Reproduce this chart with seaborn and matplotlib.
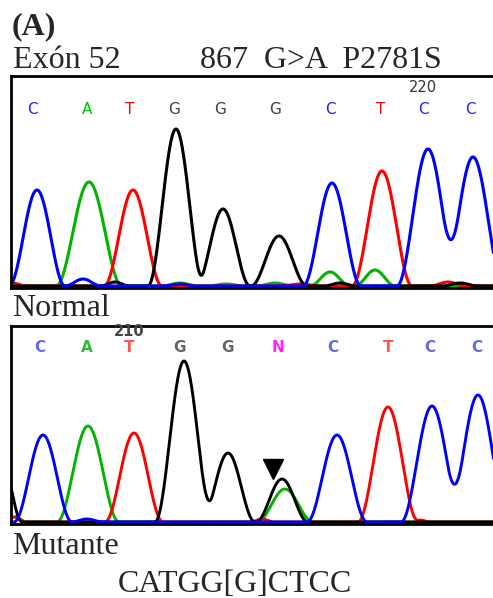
import numpy as np
import pandas as pd
import seaborn as sns
import matplotlib
matplotlib.use("Agg")
import matplotlib.pyplot as plt

sns.set_style("white")
plt.rcParams['font.family'] = ['DejaVu Sans']

# base calls (scan position, letter)
normal_pos = [32, 87, 130, 174, 220, 275, 330, 381, 423, 470]
normal_bases = ['C', 'A', 'T', 'G', 'G', 'G', 'C', 'T', 'C', 'C']
mutant_pos = [40, 87, 129, 180, 228, 278, 333, 388, 430, 477]
mutant_bases = ['C', 'A', 'T', 'G', 'G', 'N', 'C', 'T', 'C', 'C']

# peaks: (centre, height, half width)
normal_peaks = {
    'A': [(89, 104, 33), (180, 3, 18), (226, 2, 18), (275, 3, 18), (330, 14, 20), (375, 16, 20)],
    'T': [(12, 3, 14), (133, 96, 29), (300, 2, 20), (382, 115, 30), (448, 4, 18)],
    'G': [(115, 4, 14), (176, 157, 28), (223, 77, 27), (279, 50, 28), (340, 3, 16), (460, 3, 18)],
    'C': [(37, 96, 28), (83, 7, 18), (180, 2, 16), (332, 103, 29), (428, 137, 31), (473, 129, 31)],
}
mutant_peaks = {
    'A': [(15, 5, 12), (88, 96, 31), (285, 33, 28)],
    'T': [(15, 5, 10), (134, 89, 29), (262, 3, 12), (388, 115, 30), (420, 2, 10)],
    'G': [(2, 60, 20), (184, 161, 29), (228, 69, 27), (282, 43, 26)],
    'C': [(43, 87, 29), (87, 3, 16), (337, 87, 30), (432, 116, 31), (478, 127, 31)],
}
trace_colors = {'A': '#00b400', 'T': '#ff0000', 'G': '#000000', 'C': '#0000ff'}
normal_label_colors = {'A': '#00c000', 'T': '#ff0000', 'G': '#404040', 'C': '#2020ff'}
mutant_label_colors = {'A': '#33bb33', 'T': '#ff5555', 'G': '#666666', 'C': '#6666ee', 'N': '#ff22ff'}

W, H = 493, 598
scan = np.linspace(-20, 520, 1081)


def trace(peaks):
    y = np.zeros_like(scan)
    for c, h, w in peaks:
        d = np.abs(scan - c)
        y += np.where(d < w, h * np.cos(np.pi * d / (2 * w)) ** 2, 0)
    return y


def panel(ax, peaks, pos, bases, lcolors, ymax, label_y, lw, bold):
    for base in ['A', 'T', 'G', 'C']:
        df = pd.DataFrame({'scan': scan, 'signal': trace(peaks[base])})
        sns.lineplot(data=df, x='scan', y='signal', color=trace_colors[base],
                     lw=lw, estimator=None, ax=ax)
    for x, b in zip(pos, bases):
        ax.text(x, label_y, b, color=lcolors[b], ha='center', va='center',
                fontsize=11, fontweight='bold' if bold else 'normal')
    ax.set_xlim(11, 493)
    ax.set_ylim(-2, ymax)
    ax.set_xticks([])
    ax.set_yticks([])
    ax.set_xlabel('')
    ax.set_ylabel('')
    for s in ['top', 'bottom', 'left']:
        ax.spines[s].set_linewidth(2)
        ax.spines[s].set_color('black')
    ax.spines['right'].set_visible(False)


fig = plt.figure(figsize=(W / 100, H / 100), dpi=100)
ax1 = fig.add_axes([11 / W, 1 - 288 / H, 1 - 11 / W, 212 / H])
ax2 = fig.add_axes([11 / W, 1 - 524 / H, 1 - 11 / W, 198 / H])

panel(ax1, normal_peaks, normal_pos, normal_bases, normal_label_colors, 210, 176, 2.2, False)
ax1.text(423, 198, '220', color='#333333', ha='center', va='center', fontsize=10.5)

panel(ax2, mutant_peaks, mutant_pos, mutant_bases, mutant_label_colors, 196, 174, 2.1, True)
ax2.text(129, 191, '210', color='#444444', ha='center', va='center',
         fontsize=10.5, fontweight='bold')
ax2.plot([273], [53], marker='v', markersize=15, color='black', ls='none')

serif = ['Liberation Serif', 'DejaVu Serif']
fs = 23


def ftext(x, y, s, **kw):
    fig.text(x / W, 1 - y / H, s, family=serif, fontsize=fs, va='baseline', **kw)


ftext(12, 34, '(A)', fontweight='bold')
ftext(13, 68, 'Exón 52')
ftext(200, 68, '867  G>A  P2781S')
ftext(12, 316, 'Normal')
ftext(12, 554, 'Mutante')
ftext(118, 592, 'CATGG[G]CTCC')

fig.savefig('out.png', dpi=100)
